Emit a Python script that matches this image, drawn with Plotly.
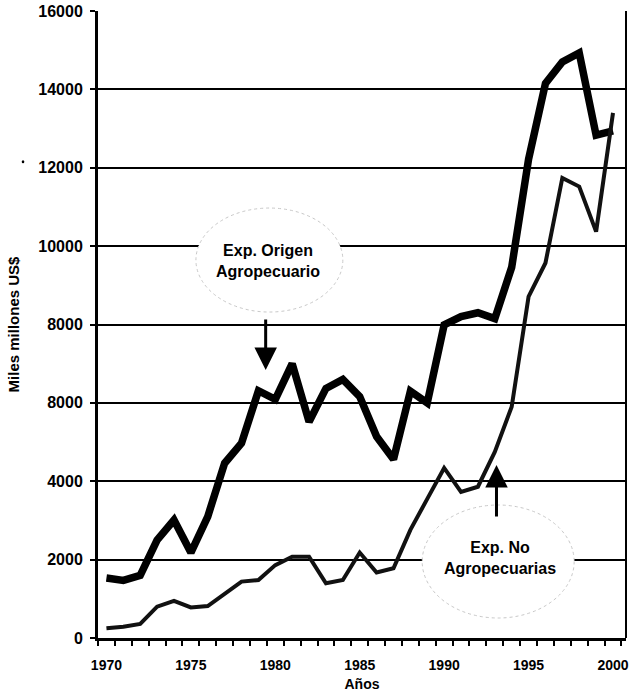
import plotly.graph_objects as go

# ---- data ----
years = list(range(1970, 2001))
exp_origen_agro = [1530, 1470, 1600, 2500, 3010, 2180, 3100, 4460, 4970, 6310,
                   6090, 7000, 5520, 6370, 6600, 6160, 5140, 4560, 6300, 6000,
                   7990, 8200, 8300, 8150, 9460, 12220, 14150, 14700, 14930, 12830,
                   12940]
exp_no_agro = [250, 290, 360, 800, 950, 780, 815, 1140, 1440, 1480,
               1860, 2075, 2075, 1395, 1480, 2180, 1670, 1780, 2760, 3550,
               4340, 3730, 3860, 4750, 5900, 8710, 9570, 11740, 11520, 10370,
               13400]

y_tick_vals = [0, 2000, 4000, 6000, 8000, 10000, 12000, 14000, 16000]
y_tick_text = ["0", "2000", "4000", "8000", "8000", "10000", "12000", "14000", "16000"]
x_tick_vals = [1970, 1975, 1980, 1985, 1990, 1995, 2000]
x_tick_text = ["1970", "1975", "1980", "1985", "1990", "1995", "2000"]

label_origen = "Exp. Origen<br>Agropecuario"
label_no_agro = "Exp. No<br>Agropecuarias"
x_title = "Años"
y_title = "Miles millones US$"

FONT = "Liberation Sans, Arial, sans-serif"

fig = go.Figure()
fig.add_trace(go.Scatter(x=years, y=exp_origen_agro, mode="lines",
                         line=dict(color="#000000", width=7.5),
                         name="Exp. Origen Agropecuario", showlegend=False))
fig.add_trace(go.Scatter(x=years, y=exp_no_agro, mode="lines",
                         line=dict(color="#111111", width=4),
                         name="Exp. No Agropecuarias", showlegend=False))

# stippled "clouds" behind the labels (hide gridlines)
clouds = [
    dict(x0=1975.3, x1=1984.0, y0=8318, y1=10972),
    dict(x0=1988.7, x1=1997.7, y0=510, y1=3394),
]
for c in clouds:
    fig.add_shape(type="circle", xref="x", yref="y", layer="between",
                  x0=c["x0"], x1=c["x1"], y0=c["y0"], y1=c["y1"],
                  fillcolor="white", line=dict(color="#c8c8c8", width=1, dash="dot"))

# right border of the plot
fig.add_shape(type="line", xref="paper", yref="paper", x0=1, x1=1, y0=0, y1=1,
              line=dict(color="black", width=2), layer="above")
# stray speck from the scan
fig.add_shape(type="circle", xref="paper", yref="paper",
              x0=-0.1445, x1=-0.1395, y0=0.757, y1=0.762,
              fillcolor="black", line=dict(width=0))

fig.add_annotation(x=1979.54, y=9620, text=label_origen, showarrow=False,
                   font=dict(family=FONT, size=16, color="black", weight="bold"))
fig.add_annotation(x=1993.33, y=2054, text=label_no_agro, showarrow=False,
                   font=dict(family=FONT, size=16, color="black", weight="bold"))

# arrows
fig.add_annotation(x=1979.43, y=6840, ax=0, ay=-52, text="", showarrow=True,
                   arrowhead=2, arrowsize=1.5, arrowwidth=3, arrowcolor="black",
                   standoff=0)
fig.add_annotation(x=1993.1, y=4415, ax=0, ay=53, text="", showarrow=True,
                   arrowhead=2, arrowsize=1.5, arrowwidth=3, arrowcolor="black",
                   standoff=0)

fig.update_layout(
    width=634, height=696,
    margin=dict(l=98, r=8, t=11, b=58, autoexpand=False),
    paper_bgcolor="white", plot_bgcolor="white",
    font=dict(family=FONT, color="black"),
    showlegend=False,
)

fig.update_xaxes(
    range=[1969.5, 2000.77], automargin=False,
    tickvals=x_tick_vals, ticktext=x_tick_text,
    ticks="", ticklabelstandoff=12,
    tickfont=dict(family=FONT, size=14, color="black", weight="bold"),
    showgrid=False, zeroline=False,
    showline=True, linecolor="black", linewidth=3,
    minor=dict(tick0=1969.5, dtick=1, ticks="outside", ticklen=5,
               tickwidth=2, tickcolor="black", showgrid=False),
    title=dict(text=x_title, standoff=8,
               font=dict(family=FONT, size=14, color="black", weight="bold")),
)
fig.update_yaxes(
    range=[0, 16000], automargin=False,
    tickvals=y_tick_vals, ticktext=y_tick_text,
    ticks="outside", ticklen=5, tickwidth=2, tickcolor="black",
    ticklabelstandoff=4,
    tickfont=dict(family=FONT, size=16, color="black", weight="bold"),
    showgrid=True, gridcolor="black", gridwidth=2,
    zeroline=False,
    showline=True, linecolor="black", linewidth=3,
    title=dict(text=y_title, standoff=16,
               font=dict(family=FONT, size=15, color="black", weight="bold")),
)

fig.write_html(
    "out.html",
    config={"displayModeBar": False},
    post_script="document.body.style.margin='0';document.body.style.padding='0';",
)
